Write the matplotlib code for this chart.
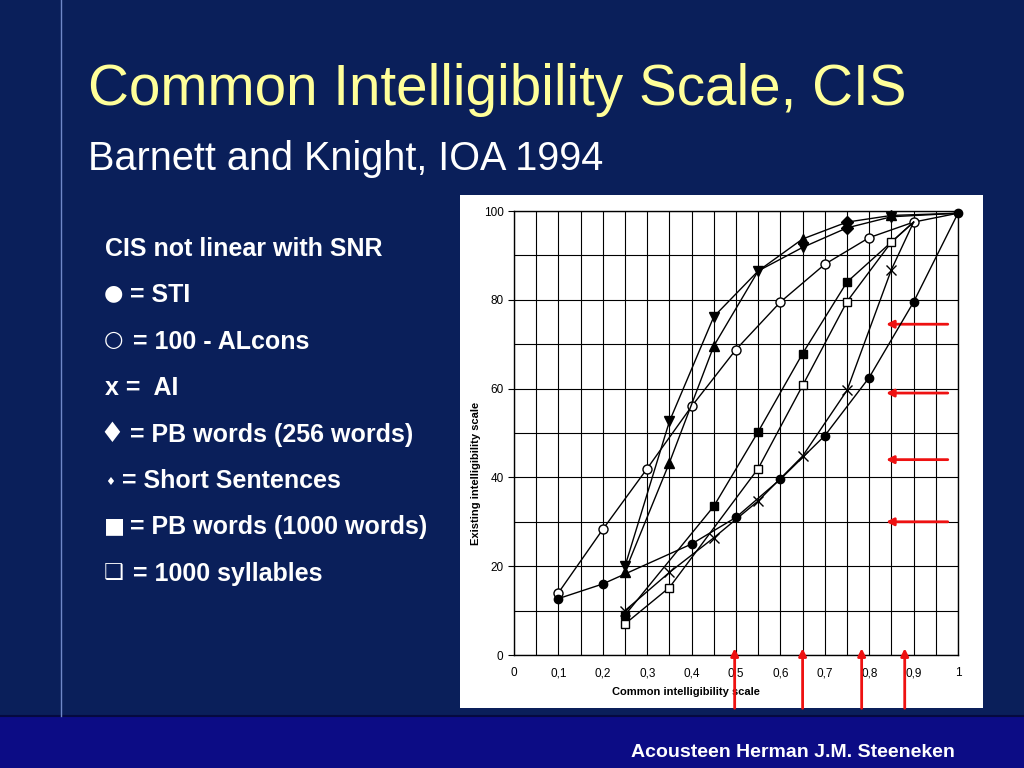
"""
Slide: Common Intelligibility Scale (CIS) vs existing intelligibility scales.
Redraw of the Barnett & Knight (IOA 1994) figure on a dark slide background.
"""

import matplotlib
matplotlib.use("Agg")
import matplotlib.pyplot as plt
from matplotlib.patches import Rectangle
from matplotlib.lines import Line2D

plt.rcParams['font.family'] = ['Liberation Sans', 'DejaVu Sans']

# ---- data ----
sti_x = [0.1, 0.2, 0.4, 0.5, 0.6, 0.7, 0.8, 0.9, 1.0]
sti_y = [12.7, 16, 25, 31, 39.6, 49.4, 62.5, 79.5, 99.5]

alcons_x = [0.1, 0.2, 0.3, 0.4, 0.5, 0.6, 0.7, 0.8, 0.9, 1.0]
alcons_y = [14, 28.3, 42, 56, 68.8, 79.5, 88, 94, 97.5, 99.5]

ai_x = [0.25, 0.35, 0.45, 0.55, 0.65, 0.75, 0.85, 0.9]
ai_y = [10, 18.6, 26.4, 34.7, 44.8, 59.6, 86.8, 97.5]

tri_dn_x = [0.25, 0.35, 0.45, 0.55, 0.65, 0.75, 0.85, 1.0]
tri_dn_y = [20, 52.6, 76.2, 86.5, 91.8, 96.2, 98.7, 99.5]

tri_up_x = [0.25, 0.35, 0.45, 0.55, 0.65, 0.75, 0.85, 1.0]
tri_up_y = [18.8, 43.3, 69.6, 86.5, 93.7, 97.5, 99, 99.5]

pb1000_x = [0.25, 0.45, 0.55, 0.65, 0.75, 0.9]
pb1000_y = [9, 33.5, 50.3, 67.9, 84, 97.5]

syl_x = [0.25, 0.35, 0.55, 0.65, 0.75, 0.85, 0.9]
syl_y = [7, 15.2, 42, 60.7, 79.6, 93, 97.5]

# red arrows added on the slide
h_arrow_y = [74.5, 59, 44, 30]
v_arrow_x = [0.497, 0.65, 0.783, 0.88]

xtick_vals = [0, 0.1, 0.2, 0.3, 0.4, 0.5, 0.6, 0.7, 0.8, 0.9, 1.0]
xtick_labels = ['0', '0,1', '0,2', '0,3', '0,4', '0,5', '0,6', '0,7', '0,8', '0,9', '1']
ytick_vals = [0, 20, 40, 60, 80, 100]

legend_symbols = ['', '\u25cf', '\u25cb', '', '\u2666', '\u2666', '\u25a0', '\u2751']
legend_labels = ['CIS not linear with SNR', '= STI', '= 100 - ALcons', 'x =  AI',
                 '= PB words (256 words)', '= Short Sentences',
                 '= PB words (1000 words)', '= 1000 syllables']
# symbol font size / x / lift, x of the label that follows (slide px)
symbol_size = [0, 16, 16, 0, 20, 8, 16, 16]
symbol_x = [0, 104, 104, 0, 99, 105, 104, 104]
symbol_lift = [0, 3, 3, 0, 0, 3, 2, 2]
label_x = [105, 130, 133, 105, 130, 122, 130, 133]

BG = '#0a1f5a'
BAND = '#0c0c85'
TITLE = '#ffff99'
RED = '#ee1111'


def px(x, y):
    """Slide pixel -> figure fraction."""
    return x / 1024, 1 - y / 768


def main():
    fig = plt.figure(figsize=(10.24, 7.68), dpi=100, facecolor=BG)

    # bottom band, divider lines
    fig.add_artist(Rectangle((0, 0), 1, 1 - 716 / 768, transform=fig.transFigure,
                             facecolor=BAND, edgecolor='none', zorder=-3))
    fig.add_artist(Line2D([0, 1], [1 - 716 / 768] * 2, transform=fig.transFigure,
                          color='#050a40', lw=1.5, zorder=-2))
    fig.add_artist(Line2D([61 / 1024] * 2, [1 - 716 / 768, 1], transform=fig.transFigure,
                          color='#7088c8', lw=1.0, zorder=-2))

    # white panel of the scanned figure
    x0, y0 = px(460, 708)
    x1, y1 = px(983, 195)
    fig.add_artist(Rectangle((x0, y0), x1 - x0, y1 - y0, transform=fig.transFigure,
                             facecolor='white', edgecolor='none', zorder=-1))

    # titles
    fig.text(*px(88, 105), 'Common Intelligibility Scale, CIS', color=TITLE,
             fontsize=40.8, va='baseline', ha='left')
    fig.text(*px(88, 170), 'Barnett and Knight, IOA 1994', color='white',
             fontsize=28.5, va='baseline', ha='left')
    fig.text(*px(955, 757), 'Acousteen Herman J.M. Steeneken', color='white',
             fontsize=14, fontweight='bold', va='baseline', ha='right')

    # left-hand text
    for i, (sym, label) in enumerate(zip(legend_symbols, legend_labels)):
        base = 256 + i * 46.4
        if sym:
            fig.text(*px(symbol_x[i], base - symbol_lift[i]), sym, color='white',
                     fontsize=symbol_size[i], va='baseline', ha='left',
                     family=['DejaVu Sans'])
        fig.text(*px(label_x[i], base), label, color='white', fontsize=18,
                 fontweight='bold', va='baseline', ha='left')

    # chart axes
    ax = fig.add_axes([514 / 1024, 1 - 655 / 768, 444 / 1024, 444 / 768])
    ax.set_xlim(0, 1)
    ax.set_ylim(0, 100)
    ax.set_xticks(xtick_vals)
    ax.set_xticklabels(xtick_labels)
    ax.set_xticks([v + 0.05 for v in xtick_vals[:-1]], minor=True)
    ax.set_yticks(ytick_vals)
    ax.set_yticks([v + 10 for v in ytick_vals[:-1]], minor=True)
    ax.grid(True, which='both', color='black', lw=0.8)
    ax.tick_params(axis='x', which='both', length=0, labelsize=8.5, pad=9)
    ax.tick_params(axis='y', which='major', length=4, labelsize=8.5, width=0.8)
    ax.tick_params(axis='y', which='minor', length=0)
    for sp in ax.spines.values():
        sp.set_linewidth(1.0)
    ax.set_xlabel('Common intelligibility scale', fontsize=8, fontweight='bold')
    ax.set_ylabel('Existing intelligibility scale', fontsize=8, fontweight='bold')
    ax.xaxis.set_label_coords(0.387, -0.072)
    ax.yaxis.set_label_coords(-0.075, 0.41)

    kw = dict(color='black', lw=1.0, clip_on=False)
    ax.plot(alcons_x, alcons_y, marker='o', ms=6.5, mfc='white', mew=1.0,
            markevery=list(range(len(alcons_x) - 1)), zorder=3, **kw)
    ax.plot(ai_x, ai_y, marker='x', ms=6.5, mew=1.0,
            markevery=list(range(len(ai_x) - 1)), zorder=3, **kw)
    ax.plot(pb1000_x, pb1000_y, marker='s', ms=5.5,
            markevery=list(range(len(pb1000_x) - 1)), zorder=3, **kw)
    ax.plot(syl_x, syl_y, marker='s', mfc='white', mew=1.0, ms=6,
            markevery=list(range(len(syl_x) - 1)), zorder=3, **kw)
    ax.plot(tri_up_x, tri_up_y, marker='^', ms=6.5, markevery=[0, 1, 2, 4, 6],
            zorder=3, **kw)
    ax.plot(tri_dn_x, tri_dn_y, marker='v', ms=6.5, markevery=[0, 1, 2, 3, 4, 6],
            zorder=3, **kw)
    ax.plot([tri_up_x[5], tri_dn_x[5]], [tri_up_y[5], tri_dn_y[5]], ls='none',
            marker='D', ms=6, color='black', zorder=4, clip_on=False)
    ax.plot(sti_x, sti_y, marker='o', ms=6, zorder=4, **kw)

    # red arrows
    arrow = dict(arrowstyle='-|>', color=RED, lw=2.0, mutation_scale=11,
                 shrinkA=0, shrinkB=0)
    for yv in h_arrow_y:
        ax.annotate('', xy=(0.838, yv), xytext=(0.977, yv),
                    arrowprops=arrow, annotation_clip=False)
    for xv in v_arrow_x:
        ax.annotate('', xy=(xv, 1.5), xytext=(xv, -12.0),
                    arrowprops=arrow, annotation_clip=False)

    fig.savefig('out.png', dpi=100, facecolor=BG)


if __name__ == '__main__':
    main()
